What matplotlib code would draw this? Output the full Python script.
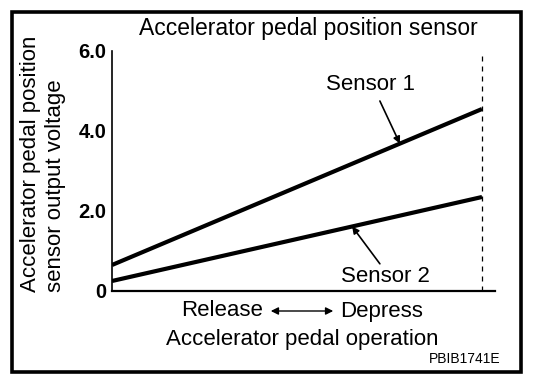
import numpy as np
import matplotlib
matplotlib.use('Agg')
import matplotlib.pyplot as plt
from matplotlib.patches import Rectangle, FancyArrowPatch

plt.rcParams['font.family'] = ['Liberation Sans', 'DejaVu Sans']

# pedal travel (release -> depress) and sensor output voltage
pedal = [0.0, 1.0]
sensor1 = [0.65, 4.55]
sensor2 = [0.25, 2.35]
yticks = [0, 2.0, 4.0, 6.0]
ytick_labels = ['0', '2.0', '4.0', '6.0']

W, H = 560, 384
fig = plt.figure(figsize=(W / 100, H / 100), dpi=100)

def fx(px):
    return px / W

def fy(py):
    return 1 - py / H

ax = fig.add_axes([fx(112), fy(291), fx(495) - fx(112), fy(51) - fy(291)])
ax.set_xlim(0, (495 - 112) / 370)
ax.set_ylim(0, 6.0)

ax.plot(pedal, sensor1, color='black', lw=3.0, solid_capstyle='butt')
ax.plot(pedal, sensor2, color='black', lw=3.0, solid_capstyle='butt')
ax.vlines(1.0, 0, 5.97, color='black', lw=0.9, linestyles=(0, (4, 4)))

for s in ['top', 'right']:
    ax.spines[s].set_visible(False)
ax.spines['left'].set_linewidth(1.2)
ax.spines['bottom'].set_linewidth(1.6)
ax.set_xticks([])
ax.set_yticks(yticks)
ax.set_yticklabels(ytick_labels, fontsize=14.5, fontweight='bold')
ax.tick_params(axis='y', length=0, pad=4)

# sensor labels with pointer arrows
arrow = dict(arrowstyle='-|>', color='black', lw=1.2, mutation_scale=10, shrinkA=0, shrinkB=0)
ax.text(0.70, 5.15, 'Sensor 1', fontsize=16, ha='center', va='center')
ax.annotate('', xy=(0.778, 0.65 + 3.9 * 0.778), xytext=(0.724, 4.75), arrowprops=arrow)
ax.text(0.738, 0.35, 'Sensor 2', fontsize=16, ha='center', va='center')
ax.annotate('', xy=(0.649, 0.25 + 2.1 * 0.649), xytext=(0.724, 0.68), arrowprops=arrow)

# texts around the plot
fig.text(fx(308), fy(29), 'Accelerator pedal position sensor', fontsize=16.5, ha='center', va='center')
fig.text(fx(43), fy(292), 'Accelerator pedal position\nsensor output voltage', fontsize=16,
         rotation=90, ha='center', va='bottom', multialignment='left', linespacing=1.3)
fig.text(fx(263), fy(311), 'Release', fontsize=16, ha='right', va='center')
fig.text(fx(340), fy(311), 'Depress', fontsize=16, ha='left', va='center')
fig.patches.append(FancyArrowPatch(
    (fx(268), fy(311)), (fx(336), fy(311)), transform=fig.transFigure,
    arrowstyle='<|-|>', mutation_scale=11, color='black', lw=1.0))
fig.text(fx(302), fy(340), 'Accelerator pedal operation', fontsize=16, ha='center', va='center')
fig.text(fx(500), fy(359), 'PBIB1741E', fontsize=10, ha='right', va='center')

# outer frame
fig.patches.append(Rectangle((fx(11.5), fy(371.5)), fx(509), fy(11.5) - fy(371.5),
                             transform=fig.transFigure, fill=False, lw=2.6, edgecolor='black'))

fig.savefig('out.png', dpi=100)
